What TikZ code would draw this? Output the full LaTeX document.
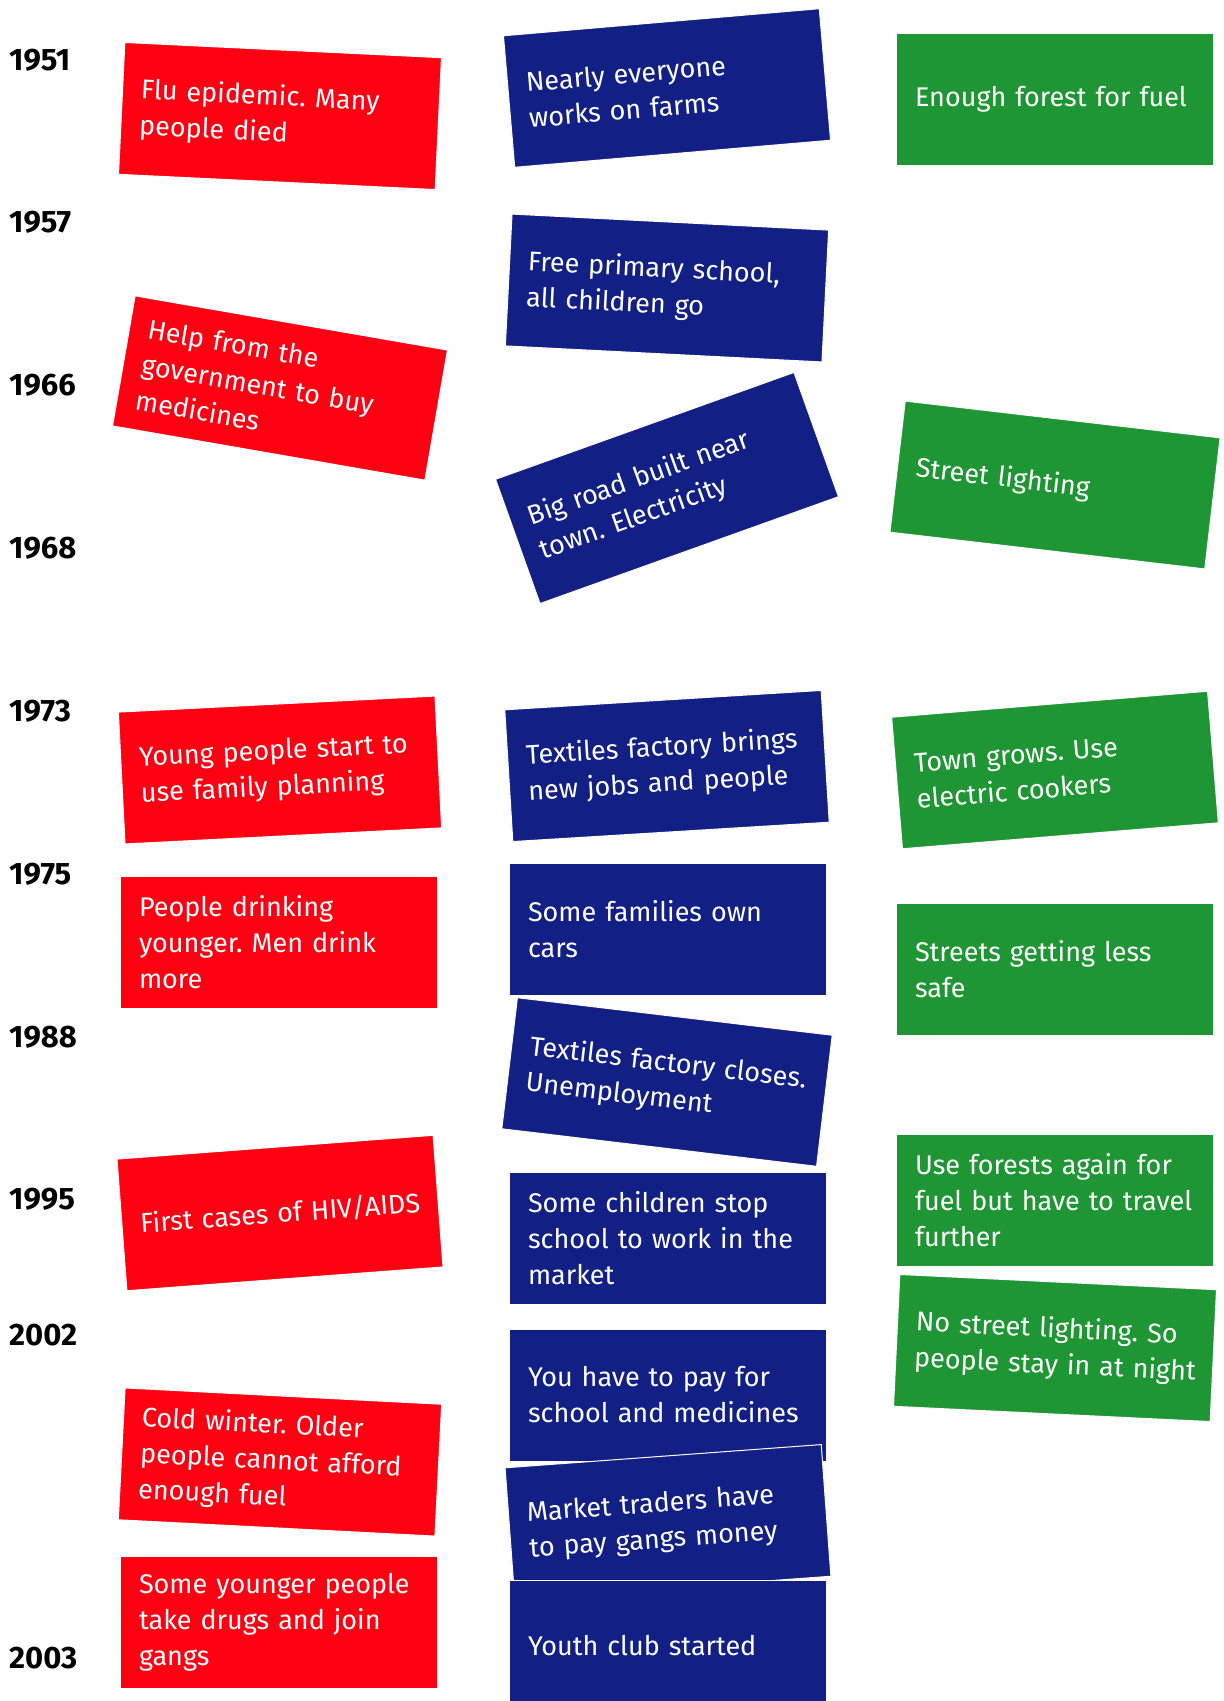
\documentclass[tikz,border=0pt]{standalone}
\usepackage{fontspec}
\setmainfont{Fira Sans}
\frenchspacing
\definecolor{cardred}{HTML}{FF0012}
\definecolor{cardblue}{HTML}{122086}
\definecolor{cardgreen}{HTML}{1E9634}
\newcommand{\cardfont}{\fontsize{27}{36}\selectfont}
\newcommand{\yearfont}{\fontsize{31}{33}\selectfont\bfseries}
\tikzset{
    card/.style={draw=white, line width=1pt, minimum width=317pt, minimum height=132pt,
        text width=280pt, inner xsep=18.5pt, align=left, text=white, font=\cardfont},
    redcard/.style={card, fill=cardred},
    bluecard/.style={card, fill=cardblue},
    greencard/.style={card, fill=cardgreen},
    year/.style={anchor=west, font=\yearfont, inner sep=0pt}
}
\begin{document}
\begin{tikzpicture}[x=1pt, y=-1pt]
    \useasboundingbox (0,0) rectangle (1224,1701);
    \clip (0,0) rectangle (1224,1701);

    % years
    \node[year] (y1951) at (9,60) {1951};
    \node[year] (y1957) at (9,222) {1957};
    \node[year] (y1966) at (9,385) {1966};
    \node[year] (y1968) at (9,548) {1968};
    \node[year] (y1973) at (9,711) {1973};
    \node[year] (y1975) at (9,874) {1975};
    \node[year] (y1988) at (9,1037) {1988};
    \node[year] (y1995) at (9,1199) {1995};
    \node[year] (y2002) at (9,1335) {2002};
    \node[year] (y2003) at (9,1658) {2003};

    % red column
    \node[redcard, rotate=-2.75] (flu) at (280,116) {Flu epidemic. Many\\people died};
    \node[redcard, rotate=-9.85] (help) at (280,388) {Help from the\\government to buy\\medicines};
    \node[redcard, rotate=2.9] (young) at (280,770) {Young people start to\\use family planning};
    \node[redcard] (drink) at (279,942) {People drinking\\younger. Men drink\\more};
    \node[redcard, rotate=4.3] (hiv) at (280,1213) {\mbox{First cases of HIV/AIDS}};
    \node[redcard, rotate=-2.95] (cold) at (280,1462) {Cold winter. Older\\people cannot afford\\enough fuel};
    \node[redcard] (drugs) at (279,1622) {Some younger people\\take drugs and join\\gangs};

    % blue column
    \node[bluecard, rotate=4.9] (farms) at (667,88) {Nearly everyone\\works on farms};
    \node[bluecard, rotate=-2.9] (school) at (667,288) {Free primary school,\\all children go};
    \node[bluecard, rotate=19.7] (road) at (667,488) {Big road built near\\town. Electricity};
    \node[bluecard, rotate=3.5] (jobs) at (667,766) {\mbox{Textiles factory brings}\\new jobs and people};
    \node[bluecard] (cars) at (668,929) {Some families own\\cars};
    \node[bluecard, rotate=-6.8] (closes) at (667,1082) {\mbox{Textiles factory closes.}\\Unemployment};
    \node[bluecard] (work) at (668,1238) {Some children stop\\school to work in the\\market};
    \node[bluecard] (pay) at (668,1395) {You have to pay for\\school and medicines};
    \node[bluecard, rotate=4.2] (gangs) at (668,1522) {Market traders have\\to pay gangs money};
    \node[bluecard] (club) at (668,1646) {Youth club started};

    % green column
    \node[greencard] (forest) at (1055,99) {Enough forest for fuel};
    \node[greencard, rotate=-6.66] (light) at (1055,485) {Street lighting};
    \node[greencard, rotate=4.7] (town) at (1055,770) {Town grows. Use\\electric cookers};
    \node[greencard] (safe) at (1055,969) {Streets getting less\\safe};
    \node[greencard] (fuel) at (1055,1200) {Use forests again for\\\mbox{fuel but have to travel}\\further};
    \node[greencard, rotate=-2.76] (night) at (1055,1348) {No street lighting. So\\\mbox{people stay in at night}};
\end{tikzpicture}
\end{document}
